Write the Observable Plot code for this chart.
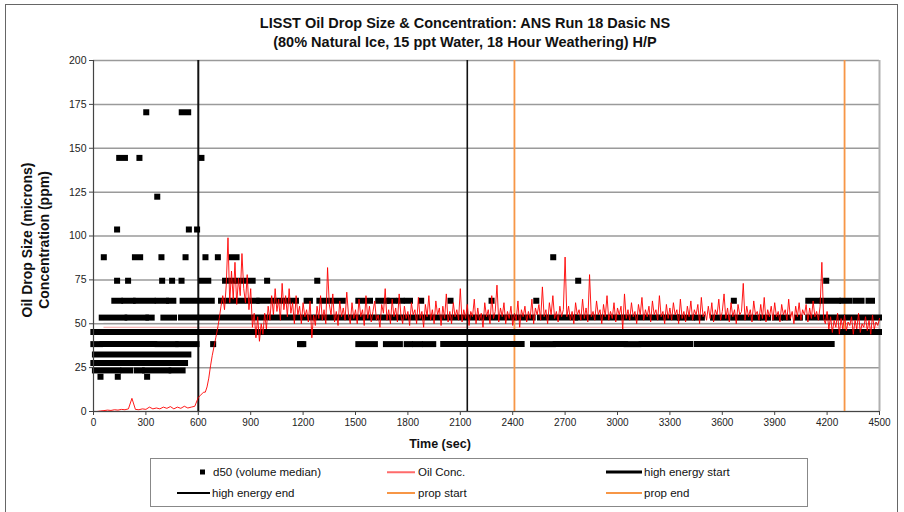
<!DOCTYPE html>
<html><head><meta charset="utf-8">
<script src="https://cdn.jsdelivr.net/npm/d3@7"></script>
<script src="https://cdn.jsdelivr.net/npm/@observablehq/plot@0.6"></script>
<style>
body{margin:0;background:#fff;font-family:Arial,"Liberation Sans",sans-serif;color:#111;}
#wrap{position:relative;width:904px;height:512px;overflow:hidden;background:#fff;}
#frame{position:absolute;left:5px;top:4px;width:893px;height:530px;border:1px solid #666;box-sizing:border-box;}
#chart{position:absolute;left:0;top:0;}
.t{position:absolute;white-space:nowrap;}
.title{font-weight:bold;font-size:14.5px;left:465px;transform:translate(-50%,-50%);}
.ylab{font-weight:bold;font-size:14px;top:240px;transform:translate(-50%,-50%) rotate(-90deg);}
.xlab{font-weight:bold;font-size:12.5px;left:440px;top:444px;transform:translate(-50%,-50%);}
#legend{position:absolute;left:150px;top:458px;width:658px;height:49px;border:1px solid #888;box-sizing:border-box;}
.li{position:absolute;font-size:11.5px;transform:translateY(-50%);white-space:nowrap;}
.ln{position:absolute;transform:translateY(-50%);}
</style></head><body>
<div id="wrap">
  <div id="frame"></div>
  <div id="chart"></div>
  <div class="t title" id="title1" style="top:23px"></div>
  <div class="t title" id="title2" style="top:42px"></div>
  <div class="t ylab" id="ylab1" style="left:27px"></div>
  <div class="t ylab" id="ylab2" style="left:44px"></div>
  <div class="t xlab" id="xlab"></div>
  <div id="legend"></div>
</div>
<script>
// ---- text ----
const titleLines = ["LISST  Oil Drop Size & Concentration: ANS Run 18 Dasic NS",
                    "(80% Natural Ice, 15 ppt Water, 18 Hour Weathering) H/P"];
const yTitleLines = ["Oil Drop Size (microns)", "Concentration (ppm)"];
const xTitle = "Time (sec)";
const legendLabels = ["d50 (volume median)", "Oil Conc.", "high energy start",
                      "high energy end", "prop start", "prop end"];

// ---- axes ----
const xTicks = [0,300,600,900,1200,1500,1800,2100,2400,2700,3000,3300,3600,3900,4200,4500];
const yTicks = [0,25,50,75,100,125,150,175,200];

// ---- event lines (sec) ----
const highEnergyStart = [600];
const highEnergyEnd = [2140];
const propStart = [2410];
const propEnd = [4300];

// ---- d50 (volume median), microns: runs of consecutive samples [size, tStart, tEnd] ----
const d50Runs = [
  [170.5,508,545],
  [144.5,150,183],
  [87.9,240,270],[87.9,794,822],
  [74.5,622,660],[74.5,756,803],[74.5,832,914],
  [63.1,122,155],[63.1,179,227],[63.1,246,342],[63.1,370,418],[63.1,435,460],[63.1,513,680],
  [63.1,733,937],[63.1,952,1162],[63.1,1223,1242],[63.1,1296,1430],[63.1,1519,1586],
  [63.1,1633,1681],[63.1,1700,1723],[63.1,1754,1767],[63.1,1796,1815],
  [63.1,4095,4150],[63.1,4175,4265],[63.1,4290,4330],[63.1,4365,4400],[63.1,4440,4460],
  [53.5,50,179],[53.5,198,303],[53.5,317,336],[53.5,403,464],[53.5,504,2517],
  [53.5,2559,2760],[53.5,2777,3343],[53.5,3360,3430],[53.5,3457,3486],[53.5,3550,3630],
  [53.5,3665,3745],[53.5,3779,3808],[53.5,3836,3865],[53.5,3905,3933],[53.5,3962,3979],
  [53.5,4030,4047],[53.5,4095,4500],
  [45.3,2,30],[45.3,40,227],[45.3,240,406],[45.3,418,4500],
  [38.4,2,40],[38.4,55,351],[38.4,370,473],[38.4,488,593],[38.4,1185,1204],[38.4,1519,1614],
  [38.4,1677,1757],[38.4,1796,1815],[38.4,1843,1872],[38.4,1900,1948],[38.4,2005,2454],
  [38.4,2519,2633],[38.4,2649,2874],[38.4,2884,3046],[38.4,3055,3122],[38.4,3141,3418],
  [38.4,3456,4229],
  [32.5,11,546],
  [27.6,2,150],[27.6,164,527],
  [23.4,11,145],[23.4,173,212],[23.4,250,279],[23.4,298,431],[23.4,450,513]
];
// isolated d50 samples [size, t]
const d50Points = [
  [170.5,302],
  [144.5,263],[144.5,618],
  [122.4,365],
  [103.7,135],[103.7,546],[103.7,593],
  [87.9,59],[87.9,389],[87.9,527],[87.9,641],[87.9,712],[87.9,2632],
  [74.5,135],[74.5,198],[74.5,393],[74.5,450],[74.5,504],[74.5,994],[74.5,1281],[74.5,2775],[74.5,4195],
  [63.1,1876],[63.1,2044],[63.1,2279],[63.1,2535],[63.1,3666],
  [38.4,685],[38.4,1191],
  [19.8,40],[19.8,139],[19.8,307]
];

// ---- Oil concentration (ppm) ----
// samples every 20 s from 0 to 580 s
const oilEarlyStart = 0, oilEarlyStep = 20;
const oilEarly = [0,0,0.3,0.5,0.8,0.6,1,0.8,1.2,1,1.5,7.5,1.2,1,1.5,1.2,2.5,1.5,2,1.5,2.5,1.8,2.8,1.5,2.5,1.8,3,2,2.5,3];
// samples every 10 s from 600 to 4500 s
const oilLateStart = 600, oilLateStep = 10;
const oilLate = [
  8,9,10,11,11,14,19,26,32,37, 42,47,53,60,66,58,72,99,62,80, 64,85,61,76,66,90,70,62,78,58, 70,
  48,56,42,54,40,50,44,56,47,60, 52,66,55,70,57,64,52,73,58,66, 54,70,56,62,50,66,55,60,50,62,
  54,58,51,63,42,55,49,60,53,66, 52,58,50,82,61,55,67,51,57,49, 63,54,59,52,68,55,50,62,53,58,
  50,64,54,58,49,66,53,60,51,57, 63,52,55,48,61,56,70,52,58,50, 64,54,59,51,67,55,50,60,53,57,
  49,62,55,58,50,65,53,57,48,61, 54,66,52,58,50,63,55,59,49,60, 53,67,51,57,50,62,54,58,52,70,
  51,58,53,61,49,57,54,64,50,59, 52,56,48,62,54,58,50,66,53,57, 72,51,59,54,62,50,57,53,60,49,
  56,52,63,48,58,54,60,51,57,53, 64,50,59,55,61,52,71,54,58,50, 62,55,66,53,57,51,60,54,58,88,
  54,60,52,57,50,62,55,58,52,64, 53,59,51,78,54,57,52,63,55,58, 50,61,54,66,52,57,53,62,51,59,
  55,60,47,67,53,58,52,62,54,57, 50,61,55,65,52,58,54,60,51,63, 55,58,52,66,54,57,50,61,53,59,
  52,62,55,58,50,64,53,57,51,60, 54,63,52,58,55,61,50,65,54,57, 52,60,53,62,51,58,55,64,52,57,
  67,53,59,51,62,54,58,50,61,55, 57,73,52,60,54,58,51,63,55,57, 52,61,53,65,51,58,54,60,52,62,
  54,57,51,61,55,58,52,64,53,57, 50,60,54,62,52,58,55,61,51,59, 53,63,54,57,52,60,85,53,50,57,
  47,54,45,52,48,56,44,53,47,55, 46,51,49,54,44,52,47,56,45,50, 48,54,46,52,44,55,47,51,49,53
];
// faint horizontal reference traces seen across the plot
const refTraceGray = [50.2];
const refTracePink = [48];

// ---- build tables ----
const oil = [
  ...oilEarly.map((v,i)=>({t: oilEarlyStart + i*oilEarlyStep, v})),
  ...oilLate.map((v,i)=>({t: oilLateStart + i*oilLateStep, v}))
];
const runs = d50Runs.map(([s,a,b])=>({s,a,b}));
const pts = d50Points.map(([s,t])=>({s,t}));

const orange = "#F79646";

const chart = Plot.plot({
  width: 904, height: 512,
  marginLeft: 93, marginRight: 25, marginTop: 60, marginBottom: 101,
  style: {background: "transparent", fontFamily: "Arial, 'Liberation Sans', sans-serif", color: "#222"},
  x: {domain: [0, 4500]},
  y: {domain: [0, 200]},
  marks: [
    Plot.gridY(yTicks, {stroke: "#9a9a9a", strokeOpacity: 1, strokeWidth: 1.5}),
    Plot.ruleX([4500], {stroke: "#b0b0b0", strokeWidth: 2}),
    Plot.ruleY(refTraceGray, {x1: 60, x2: 4500, stroke: "#999", strokeWidth: 1}),
    Plot.ruleY(refTracePink, {x1: 60, x2: 4500, stroke: "#f4a0a0", strokeWidth: 1}),
    Plot.ruleX(highEnergyStart, {stroke: "#111", strokeWidth: 2}),
    Plot.ruleX(highEnergyEnd, {stroke: "#111", strokeWidth: 1.6}),
    Plot.ruleX(propStart, {stroke: orange, strokeWidth: 1.8}),
    Plot.ruleX(propEnd, {stroke: orange, strokeWidth: 1.8}),
    Plot.ruleY(runs, {y: "s", x1: "a", x2: "b", stroke: "#000", strokeWidth: 6, strokeLinecap: "square"}),
    Plot.dot(pts, {x: "t", y: "s", symbol: "square", r: 3.4, fill: "#000", stroke: "none"}),
    Plot.line(oil, {x: "t", y: "v", stroke: "#ff0000", strokeWidth: 0.9}),
    Plot.ruleX([0], {stroke: "#444", strokeWidth: 1.2}),
    Plot.ruleY([0], {stroke: "#444", strokeWidth: 1.2}),
    Plot.axisX({ticks: xTicks, tickFormat: d3.format("d"), tickSize: 4, tickPadding: 3, fontSize: 10, label: null, stroke: "#444"}),
    Plot.axisY({ticks: yTicks, tickSize: 4, tickPadding: 3, fontSize: 10.5, label: null, stroke: "#444"})
  ]
});
document.getElementById("chart").appendChild(chart);

document.getElementById("title1").textContent = titleLines[0];
document.getElementById("title2").textContent = titleLines[1];
document.getElementById("ylab1").textContent = yTitleLines[0];
document.getElementById("ylab2").textContent = yTitleLines[1];
document.getElementById("xlab").textContent = xTitle;

// ---- legend (HTML, below the SVG plot area) ----
const lg = document.getElementById("legend");
const rowY = [13, 34];
const legendItems = [
  {kind: "dot", color: "#000", x: 51, tx: 62, row: 0},
  {kind: "line", color: "#ff6b6b", w: 1.5, x: 236, len: 28, tx: 267, row: 0},
  {kind: "line", color: "#000", w: 3, x: 455, len: 36, tx: 493, row: 0},
  {kind: "line", color: "#000", w: 2, x: 26, len: 33, tx: 61, row: 1},
  {kind: "line", color: orange, w: 2, x: 236, len: 28, tx: 267, row: 1},
  {kind: "line", color: orange, w: 2, x: 455, len: 36, tx: 493, row: 1}
];
legendItems.forEach((it, i) => {
  const y = rowY[it.row];
  const m = document.createElement("div");
  m.className = "ln";
  if (it.kind === "dot") {
    m.style.cssText = `left:${it.x - 2.5}px;top:${y}px;width:5px;height:5px;background:${it.color};`;
  } else {
    m.style.cssText = `left:${it.x}px;top:${y}px;width:${it.len}px;height:${it.w}px;background:${it.color};`;
  }
  lg.appendChild(m);
  const t = document.createElement("div");
  t.className = "li";
  t.style.left = it.tx + "px";
  t.style.top = y + "px";
  t.textContent = legendLabels[i];
  lg.appendChild(t);
});
</script>
</body></html>
